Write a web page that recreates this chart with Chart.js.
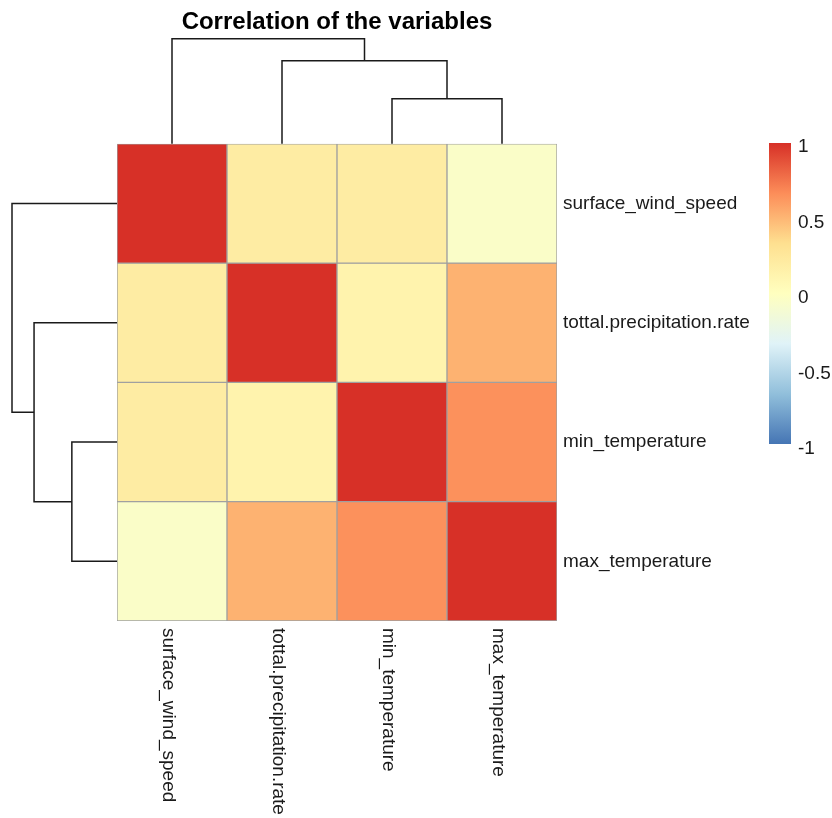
<!DOCTYPE html>
<html>
<head>
<meta charset="utf-8">
<script src="https://cdn.jsdelivr.net/npm/chart.js@4.4.1/dist/chart.umd.min.js"></script>
<style>
  html, body { margin: 0; padding: 0; background: #fff; }
  canvas { display: block; }
</style>
</head>
<body>
<canvas id="heatmap" width="832" height="818"></canvas>
<script>
var varNames = ["surface_wind_speed", "tottal.precipitation.rate", "min_temperature", "max_temperature"];

// correlation rows
var rowSurface = [1, 0.2, 0.2, -0.05];
var rowPrecip = [0.2, 1, 0.13, 0.52];
var rowMinTemp = [0.2, 0.13, 1, 0.65];
var rowMaxTemp = [-0.05, 0.52, 0.65, 1];
var corrRows = [rowSurface, rowPrecip, rowMinTemp, rowMaxTemp];

// clustering (hclust style: negative = leaf, positive = earlier merge)
var mergeA = [-3, -2, -1];
var mergeB = [-4, 1, 2];
var mergeHeight = [0.43, 0.79, 1.0];

var legendTicks = [1, 0.5, 0, -0.5, -1];

// rev(RdYlBu 7)
var palette = ["#4575B4", "#91BFDB", "#E0F3F8", "#FFFFBF", "#FEE090", "#FC8D59", "#D73027"];

var FONT = "'Liberation Sans', Arial, sans-serif";

function hexToRgb(h) {
  return [parseInt(h.substr(1, 2), 16), parseInt(h.substr(3, 2), 16), parseInt(h.substr(5, 2), 16)];
}

function corrColor(v) {
  var p = (v + 1) / 2 * (palette.length - 1);
  var i = Math.min(Math.floor(p), palette.length - 2);
  var t = p - i;
  var a = hexToRgb(palette[i]), b = hexToRgb(palette[i + 1]);
  var c = a.map(function (x, k) { return Math.round(x + (b[k] - x) * t); });
  return "rgb(" + c.join(",") + ")";
}

var datasets = corrRows.map(function (row, r) {
  return {
    label: varNames[r],
    data: row.map(function () { return [r, r + 1]; }),
    backgroundColor: row.map(corrColor),
    borderColor: "#a0a0a0",
    borderWidth: 1,
    borderSkipped: false,
    grouped: false,
    barPercentage: 1,
    categoryPercentage: 1
  };
});

// leaf/merge positions for a tree along one axis
function treeNodes(leafPos) {
  var nodes = [];
  for (var m = 0; m < mergeA.length; m++) {
    var ends = [mergeA[m], mergeB[m]].map(function (id) {
      if (id < 0) return { pos: leafPos(-id - 1), h: 0 };
      return nodes[id - 1];
    });
    nodes.push({ a: ends[0], b: ends[1], pos: (ends[0].pos + ends[1].pos) / 2, h: mergeHeight[m] });
  }
  return nodes;
}

var extras = {
  id: "extras",
  afterDraw: function (chart) {
    var ctx = chart.ctx;
    var area = chart.chartArea;
    var xs = chart.scales.x, ys = chart.scales.y;
    var maxH = Math.max.apply(null, mergeHeight);
    var treeSize = 105;

    ctx.save();
    ctx.strokeStyle = "#1a1a1a";
    ctx.lineWidth = 1.5;

    // top dendrogram
    treeNodes(function (i) { return xs.getPixelForValue(i); }).forEach(function (n) {
      var yTop = area.top - n.h / maxH * treeSize;
      ctx.beginPath();
      ctx.moveTo(n.a.pos, area.top - n.a.h / maxH * treeSize);
      ctx.lineTo(n.a.pos, yTop);
      ctx.lineTo(n.b.pos, yTop);
      ctx.lineTo(n.b.pos, area.top - n.b.h / maxH * treeSize);
      ctx.stroke();
    });

    // left dendrogram
    treeNodes(function (i) { return ys.getPixelForValue(i + 0.5); }).forEach(function (n) {
      var xL = area.left - n.h / maxH * treeSize;
      ctx.beginPath();
      ctx.moveTo(area.left - n.a.h / maxH * treeSize, n.a.pos);
      ctx.lineTo(xL, n.a.pos);
      ctx.lineTo(xL, n.b.pos);
      ctx.lineTo(area.left - n.b.h / maxH * treeSize, n.b.pos);
      ctx.stroke();
    });

    // column labels, rotated clockwise
    ctx.fillStyle = "#1a1a1a";
    ctx.font = "19px " + FONT;
    ctx.textAlign = "left";
    ctx.textBaseline = "middle";
    varNames.forEach(function (name, i) {
      ctx.save();
      ctx.translate(xs.getPixelForValue(i) - 4, area.bottom + 7);
      ctx.rotate(Math.PI / 2);
      ctx.fillText(name, 0, 0);
      ctx.restore();
    });

    // colour key
    var barX = 769, barW = 22, barTop = 143, barBot = 444;
    var grad = ctx.createLinearGradient(0, barBot, 0, barTop);
    palette.forEach(function (c, i) { grad.addColorStop(i / (palette.length - 1), c); });
    ctx.fillStyle = grad;
    ctx.fillRect(barX, barTop, barW, barBot - barTop);
    ctx.fillStyle = "#1a1a1a";
    legendTicks.forEach(function (v) {
      ctx.fillText(String(v), 798, 298 - v * 151);
    });
    ctx.restore();
  }
};

new Chart(document.getElementById("heatmap"), {
  type: "bar",
  data: { labels: varNames, datasets: datasets },
  plugins: [extras],
  options: {
    responsive: false,
    animation: false,
    layout: { padding: { left: 117, right: 75, top: 0, bottom: 197 } },
    scales: {
      x: { display: false, stacked: false },
      y: {
        type: "linear",
        position: "right",
        min: 0,
        max: 4,
        reverse: true,
        afterBuildTicks: function (axis) {
          axis.ticks = [0.5, 1.5, 2.5, 3.5].map(function (v) { return { value: v }; });
        },
        afterFit: function (axis) { axis.width = 200; },
        ticks: {
          color: "#1a1a1a",
          font: { size: 19, family: FONT },
          padding: 6,
          callback: function (v) { return varNames[Math.floor(v)]; }
        },
        grid: { display: false, drawTicks: false },
        border: { display: false }
      }
    },
    plugins: {
      legend: { display: false },
      tooltip: { enabled: false },
      title: {
        display: true,
        fullSize: false,
        text: "Correlation of the variables",
        color: "#000",
        font: { size: 24, weight: "bold", family: FONT },
        padding: { top: 8, bottom: 107 }
      }
    }
  }
});
</script>
</body>
</html>
